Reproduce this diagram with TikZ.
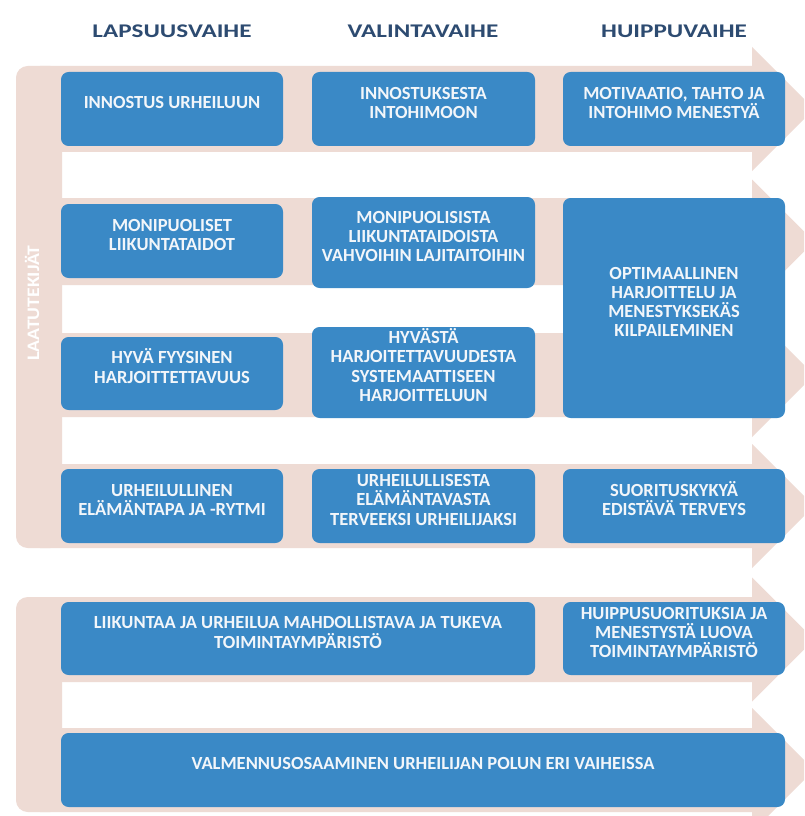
\documentclass[tikz,border=0pt]{standalone}
\usepackage{fontspec}
\setmainfont{Carlito}
\newfontfamily\headfont{Carlito}[FakeStretch=1.3]
\newfontfamily\sidefont{Carlito}[FakeStretch=1.12]
\usetikzlibrary{fit}
\definecolor{bandpink}{HTML}{EEDBD4}
\definecolor{boxblue}{HTML}{3A89C6}
\definecolor{navy}{HTML}{2D4B71}
\definecolor{boxtext}{HTML}{F2F6FA}

\tikzset{
  box/.style={fill=boxblue, rounded corners=6.5pt, inner sep=0pt, align=center,
    text=boxtext, font=\fontsize{15.8}{16.4}\selectfont\bfseries},
  phase/.style={text=navy, font=\headfont\fontsize{16.5}{18}\selectfont\bfseries},
  band/.style={fill=bandpink}
}

\begin{document}
\begin{tikzpicture}[x=0.03cm, y=-0.03cm]

\useasboundingbox (0,0) rectangle (804,816);
\clip (0,0) rectangle (804,816);
\fill[white] (0,0) rectangle (804,816);

% ================================================================
% Pink arrows: one band per row, head at x = 752, half height 62
% ================================================================
\foreach \yt/\yb in {66/152, 198/285, 333/417, 464/548, 597/682, 728/812} {
  \pgfmathsetmacro{\yc}{(\yt+\yb)/2}
  \fill[band] (40,\yt) -- (752,\yt) -- (752,{\yc-62}) -- (814,\yc)
    -- (752,{\yc+62}) -- (752,\yb) -- (40,\yb) -- cycle;
}

% Left bars joining the bands
\fill[band, rounded corners=10pt] (16,66) rectangle (62,548);
\fill[band, rounded corners=10pt] (16,597) rectangle (62,812);

\node[rotate=90, text=white, font=\sidefont\fontsize{15}{16}\selectfont\bfseries]
  (laatu) at (32,303) {LAATUTEKIJÄT};

% Phase titles
\node[phase] (lapsuus) at (172,31) {LAPSUUSVAIHE};
\node[phase] (valinta) at (423,31) {VALINTAVAIHE};
\node[phase] (huippu) at (674,31) {HUIPPUVAIHE};

% ================================================================
% Column 1: x 61..283
% ================================================================
\node[box, fit={(61,72) (283,146)}] (innostus) {INNOSTUS URHEILUUN};
\node[box, fit={(61,204) (283,278)}] (monipuoliset) {MONIPUOLISET\\LIIKUNTATAIDOT};
\node[box, fit={(61,337) (283,410)}] (fyysinen) {HYVÄ FYYSINEN\\HARJOITTETTAVUUS};
\node[box, fit={(61,469) (283,543)}] (elamantapa) {URHEILULLINEN\\ELÄMÄNTAPA JA -RYTMI};

% ================================================================
% Column 2: x 312..535
% ================================================================
\node[box, fit={(312,72) (535,146)}] (intohimoon) {INNOSTUKSESTA\\INTOHIMOON};
\node[box, fit={(312,197) (535,288)}] (lajitaidot)
  {MONIPUOLISISTA\\LIIKUNTATAIDOISTA\\VAHVOIHIN LAJITAITOIHIN};
\node[box, fit={(312,327) (535,418)}] (systemaattinen)
  {HYVÄSTÄ\\HARJOITETTAVUUDESTA\\SYSTEMAATTISEEN\\HARJOITTELUUN};
\node[box, fit={(312,469) (535,543)}] (terveeksi)
  {URHEILULLISESTA\\ELÄMÄNTAVASTA\\TERVEEKSI URHEILIJAKSI};

% ================================================================
% Column 3: x 563..785
% ================================================================
\node[box, fit={(563,72) (785,146)}] (motivaatio) {MOTIVAATIO, TAHTO JA\\INTOHIMO MENESTYÄ};
\node[box, fit={(563,198) (785,418)}] (optimaalinen)
  {OPTIMAALLINEN\\HARJOITTELU JA\\MENESTYKSEKÄS\\KILPAILEMINEN};
\node[box, fit={(563,469) (785,543)}] (terveys) {SUORITUSKYKYÄ\\EDISTÄVÄ TERVEYS};

% ================================================================
% Bottom group
% ================================================================
\node[box, fit={(61,602) (535,675)}] (ymparisto)
  {LIIKUNTAA JA URHEILUA MAHDOLLISTAVA JA TUKEVA\\TOIMINTAYMPÄRISTÖ};
\node[box, fit={(563,602) (785,675)}] (huippuymparisto)
  {HUIPPUSUORITUKSIA JA\\MENESTYSTÄ LUOVA\\TOIMINTAYMPÄRISTÖ};
\node[box, fit={(61,733) (785,807)}] (valmennus)
  {VALMENNUSOSAAMINEN URHEILIJAN POLUN ERI VAIHEISSA};

\end{tikzpicture}
\end{document}
